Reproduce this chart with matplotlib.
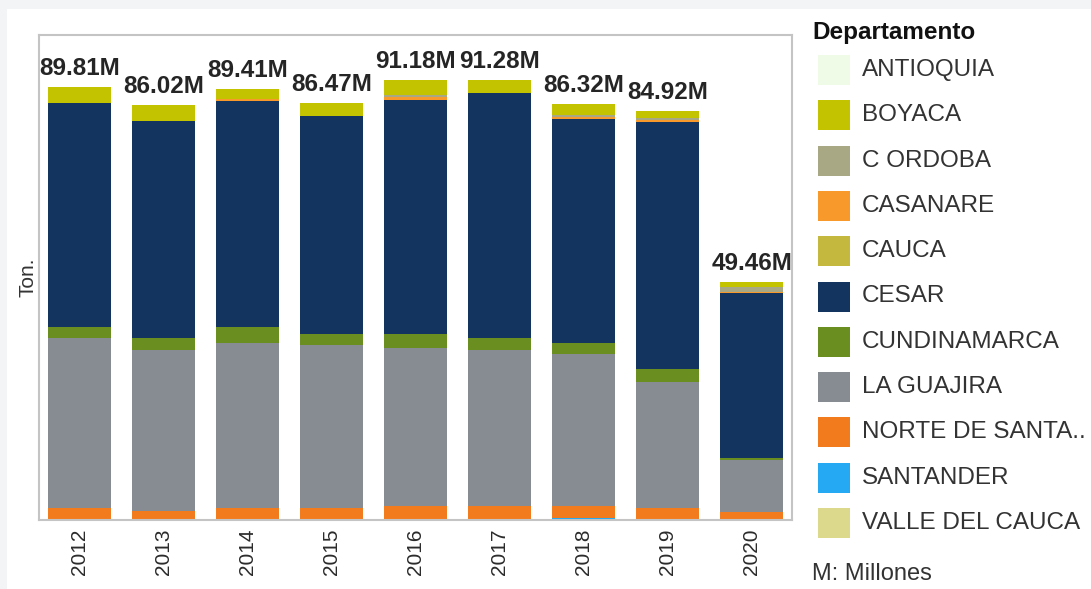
import numpy as np
import matplotlib
matplotlib.use("Agg")
import matplotlib.pyplot as plt
from matplotlib.patches import Rectangle

plt.rcParams['font.family'] = ['Liberation Sans', 'DejaVu Sans']

years = ['2012', '2013', '2014', '2015', '2016', '2017', '2018', '2019', '2020']

# millones de toneladas por departamento
antioquia = [0, 0, 0, 0, 0, 0, 0, 0, 0]
boyaca = [3.24, 3.26, 2.02, 2.70, 2.97, 2.76, 2.41, 1.60, 1.04]
cordoba = [0, 0, 0, 0, 0.56, 0, 0.30, 0.35, 1.10]
casanare = [0, 0, 0.40, 0, 0.45, 0, 0.35, 0.35, 0.27]
cauca = [0, 0, 0, 0, 0, 0, 0, 0, 0]
cesar = [46.59, 45.06, 47.01, 45.18, 48.62, 50.82, 46.48, 51.35, 34.25]
cundinamarca = [2.28, 2.43, 3.32, 2.28, 2.84, 2.43, 2.34, 2.57, 0.35]
la_guajira = [35.27, 33.34, 34.23, 33.88, 32.84, 32.37, 31.54, 26.27, 10.85]
norte = [2.43, 1.93, 2.43, 2.43, 2.90, 2.90, 2.45, 2.43, 1.60]
santander = [0, 0, 0, 0, 0, 0, 0.45, 0, 0]
valle = [0, 0, 0, 0, 0, 0, 0, 0, 0]

names = ['ANTIOQUIA', 'BOYACA', 'C ORDOBA', 'CASANARE', 'CAUCA', 'CESAR',
         'CUNDINAMARCA', 'LA GUAJIRA', 'NORTE DE SANTA..', 'SANTANDER', 'VALLE DEL CAUCA']
series = [antioquia, boyaca, cordoba, casanare, cauca, cesar,
          cundinamarca, la_guajira, norte, santander, valle]
colors = ['#effbe7', '#c3c300', '#a8a884', '#f7992b', '#c4b83e', '#12345e',
          '#6a8e1f', '#878b92', '#f27b1e', '#25a9f2', '#dcd88c']

W, H = 1091, 589
fig = plt.figure(figsize=(W / 100, H / 100), dpi=100)
fig.patch.set_facecolor('#f3f4f6')
fig.add_artist(Rectangle((7 / W, 0), 1, 1 - 9 / H, transform=fig.transFigure,
                         facecolor='white', edgecolor='none', zorder=-10))

ax = fig.add_axes([39 / W, 1 - 520 / H, (792 - 39) / W, (520 - 35) / H])
ax.set_facecolor('white')

x = np.arange(len(years))
bottom = np.zeros(len(years))
# stack from the last legend entry (bottom) to the first (top)
for vals, col in zip(series[::-1], colors[::-1]):
    ax.bar(x, vals, width=0.75, bottom=bottom, color=col, linewidth=0)
    bottom += np.array(vals)

for xi, tot in zip(x, bottom):
    ax.annotate(f"{tot:.2f}M", (xi, tot), xytext=(0, 5), textcoords='offset points',
                ha='center', va='bottom', fontsize=17.5, fontweight='bold', color='#252525')

ax.set_xlim(-0.48, 8.48)
ax.set_ylim(0, 100.6)
ax.set_xticks(x)
ax.set_xticklabels(years, rotation=90, fontsize=15, color='#2b2b2b')
ax.tick_params(axis='x', length=0, pad=6)
ax.set_yticks([])
ax.set_ylabel('Ton.', fontsize=15, color='#333333', labelpad=1)
for sp in ax.spines.values():
    sp.set_color('#c4c4c4')
    sp.set_linewidth(1.5)

# leyenda
fig.text(812 / W, 1 - 33 / H, 'Departamento', fontsize=17.5, fontweight='bold',
         va='center', ha='left', color='#111111')
for i, (name, col) in enumerate(zip(names, colors)):
    yc = 70 + 45.3 * i
    fig.add_artist(Rectangle((818 / W, 1 - (yc + 15) / H), 32 / W, 30 / H,
                             transform=fig.transFigure, facecolor=col, edgecolor='none'))
    fig.text(862 / W, 1 - yc / H, name, fontsize=17.5, va='center', ha='left', color='#333333')
fig.text(812 / W, 1 - 574 / H, 'M: Millones', fontsize=17, va='center', ha='left', color='#333333')

fig.savefig('out.png', dpi=100)
